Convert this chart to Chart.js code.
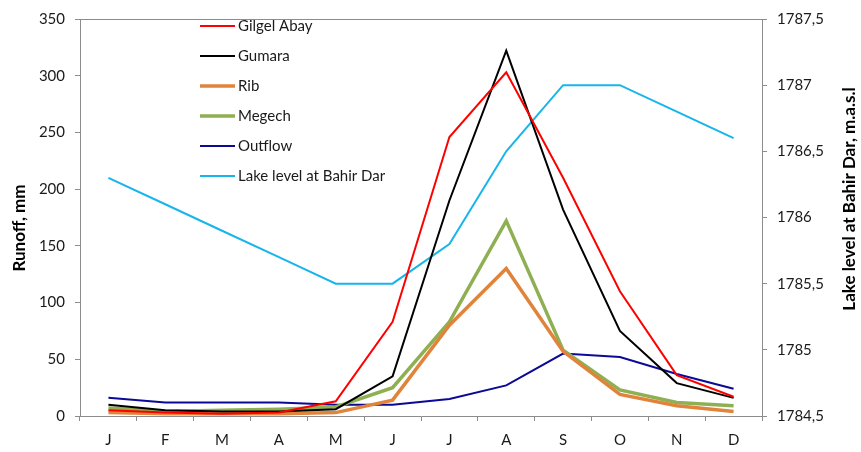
<!DOCTYPE html>
<html>
<head>
<meta charset="utf-8">
<script src="https://cdn.jsdelivr.net/npm/chart.js@4"></script>
<style>
  html, body { margin: 0; padding: 0; background: #fff; }
  #wrap { width: 861px; height: 452px; }
</style>
</head>
<body>
<div id="wrap"><canvas id="runoffChart" width="861" height="452"></canvas></div>
<script>
const months = ['J', 'F', 'M', 'A', 'M', 'J', 'J', 'A', 'S', 'O', 'N', 'D'];

const gilgelAbay = [5, 3, 2, 3, 13, 83, 246, 303, 210, 110, 36, 17];
const gumara     = [10, 5, 4, 4, 6, 35, 190, 322, 182, 75, 29, 16];
const rib        = [3, 2, 2, 2, 3, 14, 80, 130, 57, 19, 9, 4];
const megech     = [7, 4, 5, 6, 8, 25, 83, 172, 58, 23, 12, 9];
const outflow    = [16, 12, 12, 12, 10, 10, 15, 27, 55, 52, 37, 24];
const lakeLevel  = [1786.3, 1786.1, 1785.9, 1785.7, 1785.5, 1785.5, 1785.8, 1786.5, 1787.0, 1787.0, 1786.8, 1786.6];

const leftTitle = 'Runoff, mm';
const rightTitle = 'Lake level at Bahir Dar, m.a.s.l';

const fontFamily = 'Lato, "Open Sans", sans-serif';
const axisGray = '#8c8c8c';
const textColor = '#1a1a1a';

function makeLine(label, data, color, width, axis) {
    return {
        label: label,
        data: data,
        borderColor: color,
        backgroundColor: color,
        borderWidth: width,
        pointRadius: 0,
        tension: 0,
        fill: false,
        yAxisID: axis
    };
}

// legend drawn inside the plot area, like the original
const insideLegend = {
    id: 'insideLegend',
    afterDraw(chart) {
        const ctx = chart.ctx;
        const x0 = 200, x1 = 235, y0 = 26, step = 30;
        ctx.save();
        ctx.font = '15px ' + fontFamily;
        ctx.textBaseline = 'middle';
        ctx.fillStyle = textColor;
        chart.data.datasets.forEach((ds, i) => {
            const y = y0 + i * step;
            ctx.strokeStyle = ds.borderColor;
            ctx.lineWidth = ds.borderWidth;
            ctx.beginPath();
            ctx.moveTo(x0, y);
            ctx.lineTo(x1, y);
            ctx.stroke();
            ctx.fillText(ds.label, x1 + 3, y);
        });
        ctx.restore();
    }
};

// top border of the plot box + both axis titles (both read bottom to top)
const plotBox = {
    id: 'plotBox',
    afterDraw(chart) {
        const a = chart.chartArea;
        const ctx = chart.ctx;
        ctx.save();
        ctx.strokeStyle = axisGray;
        ctx.lineWidth = 1;
        ctx.beginPath();
        ctx.moveTo(a.left, a.top + 0.5);
        ctx.lineTo(a.right, a.top + 0.5);
        ctx.stroke();

        ctx.fillStyle = '#000';
        ctx.font = 'bold 17px ' + fontFamily;
        ctx.textAlign = 'center';
        ctx.textBaseline = 'middle';

        ctx.save();
        ctx.translate(20, 228);
        ctx.rotate(-Math.PI / 2);
        ctx.fillText(leftTitle, 0, 0);
        ctx.restore();

        ctx.save();
        ctx.translate(850, 199);
        ctx.rotate(-Math.PI / 2);
        ctx.fillText(rightTitle, 0, 0);
        ctx.restore();

        ctx.restore();
    }
};

const ctx = document.getElementById('runoffChart').getContext('2d');

new Chart(ctx, {
    type: 'line',
    data: {
        labels: months,
        datasets: [
            makeLine('Gilgel Abay', gilgelAbay, '#ff0000', 2, 'y'),
            makeLine('Gumara', gumara, '#000000', 2, 'y'),
            makeLine('Rib', rib, '#e0843c', 3.5, 'y'),
            makeLine('Megech', megech, '#8fb052', 3.5, 'y'),
            makeLine('Outflow', outflow, '#0a0a96', 2, 'y'),
            makeLine('Lake level at Bahir Dar', lakeLevel, '#17b5ec', 2, 'y2')
        ]
    },
    options: {
        responsive: false,
        animation: false,
        layout: { padding: { top: 17, left: 0, right: 0, bottom: 0 } },
        plugins: {
            legend: { display: false },
            tooltip: { enabled: false }
        },
        scales: {
            x: {
                offset: true,
                grid: { drawOnChartArea: false, drawTicks: true, tickLength: 5, color: axisGray, offset: true },
                border: { color: axisGray },
                ticks: { color: textColor, font: { family: fontFamily, size: 15 }, padding: 10, maxRotation: 0 },
                afterFit(scale) { scale.height = 36; }
            },
            y: {
                position: 'left',
                min: 0,
                max: 350,
                ticks: { stepSize: 50, color: textColor, font: { family: fontFamily, size: 15 }, padding: 10 },
                grid: { drawOnChartArea: false, drawTicks: true, tickLength: 5, color: axisGray },
                border: { color: axisGray },
                afterFit(scale) { scale.width = 80; }
            },
            y2: {
                position: 'right',
                min: 1784.5,
                max: 1787.5,
                ticks: {
                    stepSize: 0.5,
                    color: textColor,
                    font: { family: fontFamily, size: 15 },
                    padding: 10,
                    callback: v => String(Math.round(v * 10) / 10).replace('.', ',')
                },
                grid: { drawOnChartArea: false, drawTicks: true, tickLength: 5, color: axisGray },
                border: { color: axisGray },
                afterFit(scale) { scale.width = 99; }
            }
        }
    },
    plugins: [insideLegend, plotBox]
});
</script>
</body>
</html>
